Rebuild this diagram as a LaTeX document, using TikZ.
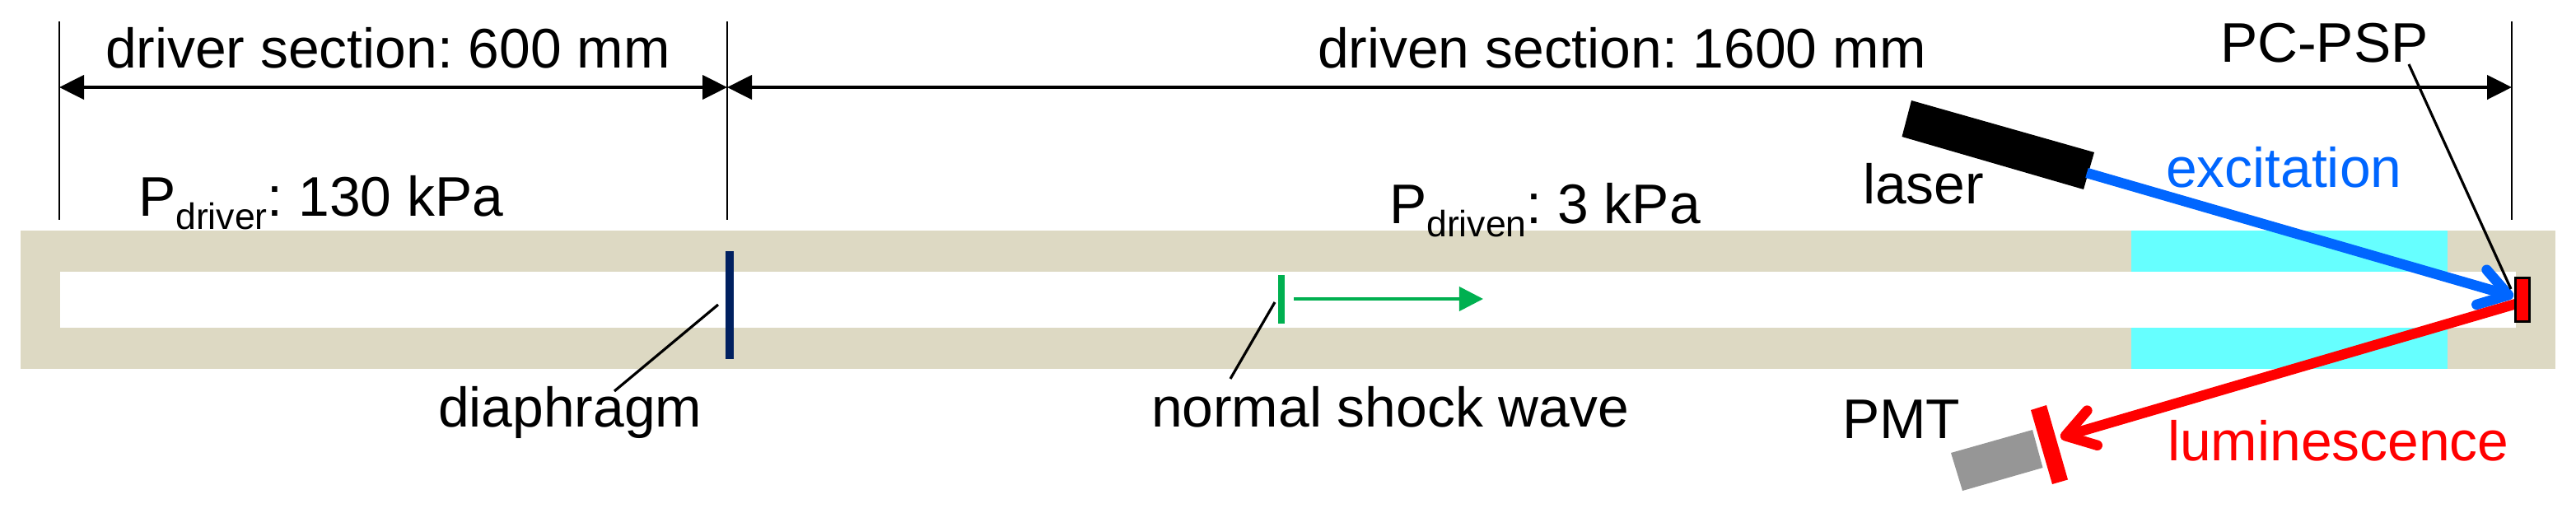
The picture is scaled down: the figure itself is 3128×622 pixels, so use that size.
\documentclass[tikz,border=0pt]{standalone}
\usepackage{fontspec}
\setmainfont{Liberation Sans}
\usetikzlibrary{arrows.meta}
\definecolor{tube}{HTML}{DDD9C3}
\definecolor{win}{HTML}{66FFFF}
\definecolor{navy}{HTML}{002060}
\definecolor{shock}{HTML}{00B050}
\definecolor{exc}{HTML}{0066FF}
\definecolor{lum}{HTML}{FF0000}
\definecolor{pmtgray}{HTML}{969696}
\newcommand{\Sub}[1]{\raisebox{-4pt}{\fontsize{11.15pt}{13pt}\selectfont #1}}
\tikzset{
  x=0.25pt,y=-0.25pt,
  lbl/.style={anchor=base west,inner sep=0pt,outer sep=0pt,font=\fontsize{16.95pt}{20pt}\selectfont\frenchspacing},
  extline/.style={line width=0.7pt,black},
  dimline/.style={line width=0.95pt,black,{Triangle[length=7.5pt,width=7.3pt]}-{Triangle[length=7.5pt,width=7.3pt]}},
  leader/.style={line width=0.8pt,black},
  beam/.style={line width=3.1pt,-{Straight Barb[length=8.5pt,width=11pt,round]}},
}
\begin{document}
\begin{tikzpicture}
\useasboundingbox (0,0) rectangle (3128,622);
% tube
\fill[tube] (25,280) rectangle (3103,448);
\fill[white] (73,329.5) rectangle (3055,398);
\fill[win] (2588,280) rectangle (2972,329.5);
\fill[win] (2588,398) rectangle (2972,448);
% extension lines
\coordinate (e1t) at (72,26); \coordinate (e1b) at (72,267);
\coordinate (e2t) at (883,26); \coordinate (e2b) at (883,267);
\coordinate (e3t) at (3050,26); \coordinate (e3b) at (3050,267);
\draw[extline] (e1t) -- (e1b);
\draw[extline] (e2t) -- (e2b);
\draw[extline] (e3t) -- (e3b);
\coordinate (d1) at (72,106); \coordinate (d2) at (883,106); \coordinate (d3) at (3050,106);
\draw[dimline] (d1) -- (d2);
\draw[dimline] (d2) -- (d3);
% labels
\node[lbl] (drvsec) at (128,82) {driver section: 600 mm};
\node[lbl] (drnsec) at (1600,82) {driven section: 1600 mm};
\node[lbl] (pdriver) at (168,262) {P\Sub{driver}: 130 kPa};
\node[lbl] (pdriven) at (1687,271) {P\Sub{driven}: 3 kPa};
\node[lbl] (diatxt) at (532,518) {diaphragm};
\node[lbl] (shocktxt) at (1398,518) {normal shock wave};
\node[lbl] (psptxt) at (2696,75) {PC-PSP};
\node[lbl] (lasertxt) at (2262,247) {laser};
\node[lbl] (pmttxt) at (2237,532.5) {PMT};
\node[lbl,text=exc] (exctxt) at (2630,227) {excitation};
\node[lbl,text=lum] (lumtxt) at (2632,559.5) {luminescence};
% diaphragm
\fill[navy] (881,305) rectangle (891,436);
\coordinate (dl1) at (872,370); \coordinate (dl2) at (746,475);
\draw[leader] (dl1) -- (dl2);
% shock
\fill[shock] (1552,334) rectangle (1560,393);
\coordinate (sa1) at (1571,363); \coordinate (sa2) at (1801,363);
\draw[shock,line width=0.95pt,-{Triangle[length=7.3pt,width=7.3pt]}] (sa1) -- (sa2);
\coordinate (sl1) at (1548,367); \coordinate (sl2) at (1494,460);
\draw[leader] (sl1) -- (sl2);
% laser
\fill[black] (2321,122) -- (2543,185) -- (2530,230) -- (2309.5,166) -- cycle;
\coordinate (bl1) at (2534,210); \coordinate (bl2) at (3052,360);
\draw[exc,beam] (bl1) -- (bl2);
% PMT
\fill[pmtgray] (2369,550) -- (2468,522) -- (2480.5,568) -- (2383,596) -- cycle;
\fill[lum] (2466,498) -- (2485,492) -- (2511,582.5) -- (2492,588) -- cycle;
\coordinate (rl1) at (3055,369); \coordinate (rl2) at (2502,531);
\draw[lum,beam] (rl1) -- (rl2);
% PSP
\node[draw=black,fill=lum,line width=0.7pt,minimum width=4.4pt,minimum height=13.2pt,inner sep=0pt,anchor=center] (psp) at (3063,363.7) {};
\coordinate (pl1) at (2925,78); \coordinate (pl2) at (3049,351);
\draw[leader] (pl1) -- (pl2);
\end{tikzpicture}
\end{document}
